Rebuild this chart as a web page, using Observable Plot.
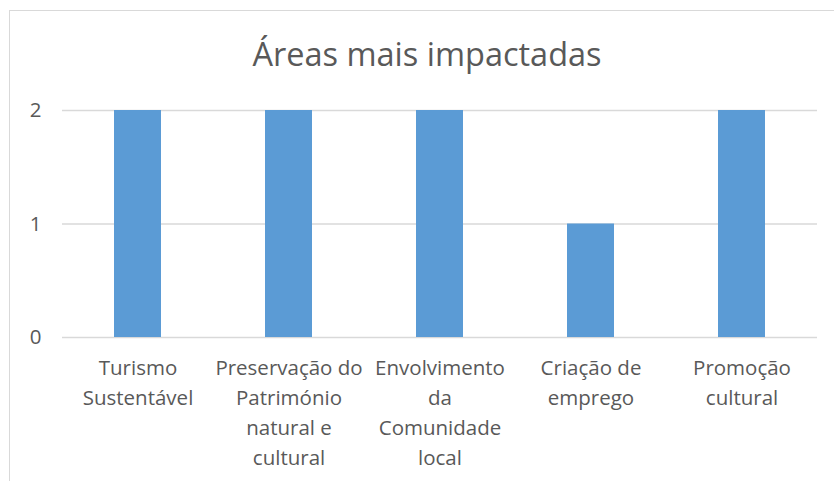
<!DOCTYPE html>
<html>
<head>
<meta charset="utf-8">
<script src="https://cdn.jsdelivr.net/npm/d3@7"></script>
<script src="https://cdn.jsdelivr.net/npm/@observablehq/plot@0.6"></script>
<style>
  html, body { margin: 0; padding: 0; background: #fff; }
  #wrap { position: relative; width: 834px; height: 481px; overflow: hidden; background: #fff; }
  #frame { position: absolute; left: 9px; top: 10px; width: 840px; height: 500px; border: 1px solid #d9d9d9; box-sizing: border-box; }
  #title { position: absolute; left: 10px; width: 834px; top: 29px; text-align: center; font-family: "Open Sans", "Noto Sans", sans-serif; font-size: 32.5px; color: #595959; line-height: 50px; }
  #chart { position: absolute; left: 0; top: 80px; }
</style>
</head>
<body>
<div id="wrap">
  <div id="frame"></div>
  <div id="title">Áreas mais impactadas</div>
  <div id="chart"></div>
</div>
<script>
const categories = ["Turismo Sustentável", "Preservação do Património natural e cultural", "Envolvimento da Comunidade local", "Criação de emprego", "Promoção cultural"];
const values = [2, 2, 2, 1, 2];
const tickLabels = ["Turismo\nSustentável", "Preservação do\nPatrimónio\nnatural e\ncultural", "Envolvimento\nda\nComunidade\nlocal", "Criação de\nemprego", "Promoção\ncultural"];
const yTicks = [0, 1, 2];

const data = categories.map((c, i) => ({category: c, value: values[i]}));
const labelOf = new Map(categories.map((c, i) => [c, tickLabels[i]]));

const plot = Plot.plot({
  width: 834,
  height: 401,
  marginLeft: 62,
  marginRight: 17,
  marginTop: 30,
  marginBottom: 144,
  style: { fontFamily: "'Open Sans', 'Noto Sans', sans-serif", color: "#595959", background: "transparent" },
  x: { domain: categories, paddingInner: 0.69, paddingOuter: 0.345 },
  y: { domain: [0, 2] },
  marks: [
    Plot.ruleY(yTicks, { stroke: "#d9d9d9", strokeWidth: 1.5 }),
    Plot.barY(data, { x: "category", y: "value", fill: "#5B9BD5" }),
    Plot.axisY({ ticks: yTicks, tickSize: 0, tickPadding: 21, fontSize: 20.5, label: null, fill: "#595959", tickFormat: d => String(d) }),
    Plot.axisX({ tickSize: 0, tickPadding: 16, fontSize: 20.5, lineHeight: 1.47, label: null, fill: "#595959", tickFormat: d => labelOf.get(d) })
  ]
});
document.getElementById("chart").appendChild(plot);
</script>
</body>
</html>
